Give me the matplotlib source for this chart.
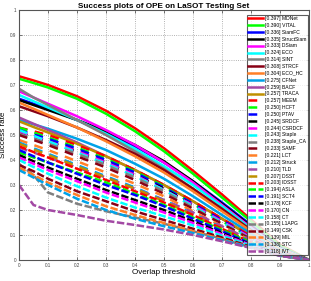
import matplotlib
matplotlib.use("Agg")
import matplotlib.pyplot as plt

thresholds = [0, 0.05, 0.1, 0.2, 0.3, 0.4, 0.5, 0.6, 0.7, 0.8, 0.9, 1.0]

names = ["MDNet", "VITAL", "SiamFC", "StructSiam", "DSiam", "ECO", "SINT", "STRCF",
         "ECO_HC", "CFNet", "BACF", "TRACA",
         "MEEM", "HCFT", "PTAV", "SRDCF", "CSRDCF", "Staple", "Staple_CA", "SAMF",
         "LCT", "Struck", "TLD", "DSST",
         "IDSST", "ASLA", "SCT4", "KCF", "CN", "CT", "L1APG", "CSK", "MIL", "STC", "IVT"]
scores = [0.397, 0.390, 0.336, 0.335, 0.333, 0.324, 0.314, 0.308, 0.304, 0.275, 0.259, 0.257,
          0.257, 0.250, 0.250, 0.245, 0.244, 0.243, 0.238, 0.233, 0.221, 0.212, 0.210, 0.207,
          0.203, 0.194, 0.191, 0.178, 0.170, 0.158, 0.155, 0.149, 0.139, 0.138, 0.118]

curves = [
    [0.735, 0.718, 0.700, 0.655, 0.597, 0.527, 0.447, 0.357, 0.262, 0.162, 0.062, 0.0],
    [0.725, 0.708, 0.690, 0.645, 0.585, 0.515, 0.435, 0.345, 0.250, 0.155, 0.058, 0.0],
    [0.645, 0.625, 0.605, 0.560, 0.510, 0.455, 0.390, 0.315, 0.230, 0.140, 0.050, 0.0],
    [0.640, 0.620, 0.600, 0.560, 0.515, 0.460, 0.395, 0.315, 0.225, 0.135, 0.048, 0.0],
    [0.675, 0.650, 0.625, 0.575, 0.520, 0.460, 0.390, 0.310, 0.220, 0.130, 0.045, 0.0],
    [0.660, 0.635, 0.610, 0.560, 0.505, 0.445, 0.375, 0.300, 0.215, 0.125, 0.045, 0.0],
    [0.685, 0.650, 0.620, 0.560, 0.500, 0.435, 0.365, 0.285, 0.200, 0.115, 0.040, 0.0],
    [0.615, 0.595, 0.575, 0.530, 0.480, 0.425, 0.360, 0.285, 0.205, 0.120, 0.040, 0.0],
    [0.630, 0.605, 0.580, 0.530, 0.475, 0.415, 0.350, 0.275, 0.195, 0.115, 0.040, 0.0],
    [0.560, 0.543, 0.525, 0.485, 0.440, 0.385, 0.325, 0.255, 0.180, 0.105, 0.035, 0.0],
    [0.570, 0.545, 0.520, 0.470, 0.415, 0.360, 0.300, 0.235, 0.165, 0.095, 0.030, 0.0],
    [0.555, 0.532, 0.510, 0.465, 0.415, 0.360, 0.300, 0.235, 0.165, 0.095, 0.030, 0.0],
    [0.530, 0.515, 0.500, 0.460, 0.415, 0.360, 0.300, 0.235, 0.165, 0.095, 0.030, 0.0],
    [0.530, 0.510, 0.490, 0.450, 0.405, 0.355, 0.295, 0.225, 0.155, 0.090, 0.030, 0.0],
    [0.520, 0.502, 0.485, 0.445, 0.400, 0.350, 0.290, 0.225, 0.160, 0.090, 0.030, 0.0],
    [0.510, 0.492, 0.475, 0.435, 0.390, 0.340, 0.285, 0.220, 0.155, 0.090, 0.030, 0.0],
    [0.515, 0.495, 0.475, 0.435, 0.390, 0.340, 0.280, 0.220, 0.155, 0.090, 0.030, 0.0],
    [0.520, 0.497, 0.475, 0.430, 0.385, 0.335, 0.280, 0.215, 0.150, 0.085, 0.028, 0.0],
    [0.505, 0.485, 0.465, 0.425, 0.380, 0.330, 0.275, 0.210, 0.145, 0.085, 0.028, 0.0],
    [0.500, 0.480, 0.460, 0.415, 0.370, 0.320, 0.265, 0.205, 0.145, 0.083, 0.027, 0.0],
    [0.480, 0.460, 0.440, 0.395, 0.350, 0.305, 0.255, 0.195, 0.135, 0.078, 0.025, 0.0],
    [0.470, 0.447, 0.425, 0.380, 0.335, 0.290, 0.240, 0.185, 0.130, 0.075, 0.025, 0.0],
    [0.450, 0.430, 0.410, 0.370, 0.330, 0.285, 0.240, 0.190, 0.135, 0.080, 0.027, 0.0],
    [0.465, 0.442, 0.420, 0.375, 0.330, 0.285, 0.235, 0.180, 0.125, 0.070, 0.023, 0.0],
    [0.455, 0.432, 0.410, 0.365, 0.320, 0.275, 0.230, 0.180, 0.125, 0.070, 0.023, 0.0],
    [0.430, 0.410, 0.390, 0.350, 0.310, 0.265, 0.220, 0.170, 0.120, 0.070, 0.023, 0.0],
    [0.440, 0.415, 0.390, 0.345, 0.300, 0.260, 0.215, 0.165, 0.115, 0.065, 0.022, 0.0],
    [0.420, 0.395, 0.370, 0.325, 0.280, 0.240, 0.200, 0.155, 0.108, 0.062, 0.020, 0.0],
    [0.410, 0.385, 0.360, 0.315, 0.270, 0.230, 0.190, 0.148, 0.103, 0.060, 0.020, 0.0],
    [0.400, 0.372, 0.345, 0.295, 0.250, 0.210, 0.175, 0.138, 0.097, 0.057, 0.019, 0.0],
    [0.385, 0.340, 0.270, 0.225, 0.195, 0.170, 0.145, 0.115, 0.085, 0.050, 0.017, 0.0],
    [0.380, 0.355, 0.325, 0.275, 0.235, 0.195, 0.160, 0.125, 0.090, 0.053, 0.018, 0.0],
    [0.370, 0.340, 0.310, 0.260, 0.215, 0.180, 0.148, 0.115, 0.083, 0.050, 0.017, 0.0],
    [0.360, 0.330, 0.300, 0.245, 0.200, 0.165, 0.135, 0.108, 0.080, 0.050, 0.017, 0.0],
    [0.300, 0.220, 0.200, 0.180, 0.157, 0.140, 0.122, 0.100, 0.075, 0.048, 0.017, 0.0],
]

colors = [(1, 0, 0), (0, 1, 0), (0, 0, 1), (0, 0, 0), (1, 0, 1), (0, 1, 1),
          (0.5, 0.5, 0.5), (136/255, 0, 21/255), (255/255, 127/255, 39/255),
          (0, 162/255, 232/255), (163/255, 73/255, 164/255), (191/255, 144/255, 0)]

plt.rcParams['font.family'] = ['Liberation Sans', 'DejaVu Sans']

fig = plt.figure(figsize=(3.11, 2.81), dpi=100)
ax = fig.add_axes([19/311, 21/281, 290/311, 250/281])

lw = 1.8
for i, (name, sc, ys) in enumerate(zip(names, scores, curves)):
    c = colors[i % 12]
    group = i // 12
    if group == 0:
        ls = '-'
    elif group == 1:
        ls = (0, (3.5, 3.0))
    else:
        ls = (0, (3.0, 1.0))
    ax.plot(thresholds, ys, color=c, lw=lw, linestyle=ls,
            label='[%.3f] %s' % (sc, name))

ax.set_xlim(0, 1)
ax.set_ylim(0, 1)
ticks = [0, 0.1, 0.2, 0.3, 0.4, 0.5, 0.6, 0.7, 0.8, 0.9, 1]
ax.set_xticks(ticks)
ax.set_yticks(ticks)
ax.set_xticklabels(['0', '0.1', '0.2', '0.3', '0.4', '0.5', '0.6', '0.7', '0.8', '0.9', '1'])
ax.set_yticklabels(['0', '0.1', '0.2', '0.3', '0.4', '0.5', '0.6', '0.7', '0.8', '0.9', '1'])
ax.tick_params(labelsize=3.3, length=2, width=0.5, direction='in', pad=2,
               colors='#444444', top=True, right=True)
ax.grid(True, linestyle=':', color='#999999', lw=0.6)
for s in ax.spines.values():
    s.set_color('#555555')
    s.set_linewidth(0.8)

ax.set_xlabel('Overlap threshold', fontsize=5.8, labelpad=1)
ax.set_ylabel('Success rate', fontsize=5.8, labelpad=2)
ax.set_title('Success plots of OPE on LaSOT Testing Set', fontsize=5.9,
             fontweight='bold', pad=1.5)

leg = ax.legend(loc='upper right', bbox_to_anchor=(0.995, 0.982), fontsize=3.6,
                frameon=True, fancybox=False, edgecolor='#333333',
                handlelength=3.0, handletextpad=0.3, labelspacing=0.37,
                borderpad=0.3, borderaxespad=0.0)
leg.get_frame().set_linewidth(0.8)

fig.savefig('out.png', dpi=100)
